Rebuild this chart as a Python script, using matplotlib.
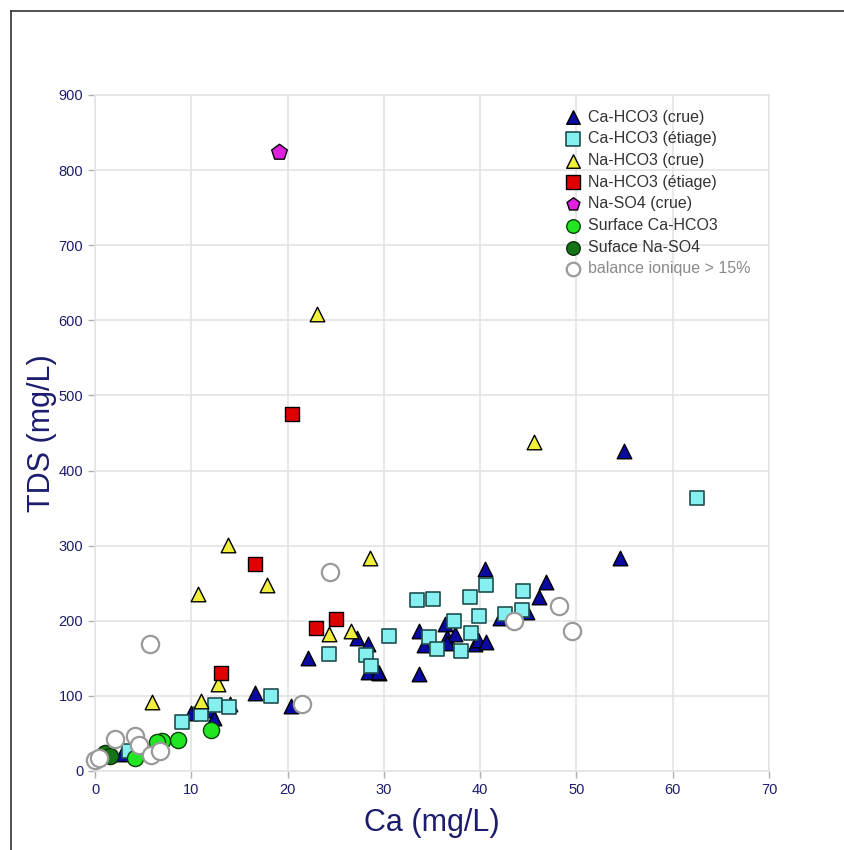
import matplotlib
matplotlib.use("Agg")
import matplotlib.pyplot as plt
from matplotlib.lines import Line2D

plt.rcParams['font.family'] = ['Liberation Sans', 'DejaVu Sans']

# Ca (mg/L), TDS (mg/L) per group
ca_hco3_crue_ca = [54.9, 54.5, 40.5, 46.8, 46.1, 44.9, 42.1, 33.6, 36.4, 36.6, 37.4, 34.2,
                   36.6, 39.5, 39.8, 40.6, 33.6, 29.5, 27.2, 28.4, 22.1, 28.4, 29.4, 16.6,
                   20.4, 14.0, 10.0, 11.9, 12.4, 2.8]
ca_hco3_crue_tds = [426, 284, 269, 251, 232, 212, 204, 186, 196, 178, 182, 168,
                    170, 169, 175, 172, 129, 131, 177, 169, 150, 132, 132, 104,
                    86, 89, 77, 81, 71, 23]

ca_hco3_etiage_ca = [62.5, 40.6, 44.4, 33.4, 35.1, 38.9, 44.3, 42.6, 37.3, 39.9, 30.5, 34.7,
                     39.1, 35.5, 38.0, 24.3, 28.1, 28.7, 18.3, 12.5, 13.9, 11.0, 9.0, 3.5]
ca_hco3_etiage_tds = [363, 247, 239, 227, 229, 232, 215, 209, 200, 206, 180, 178,
                      184, 162, 160, 156, 154, 140, 100, 88, 85, 76, 65, 26]

na_hco3_crue_ca = [45.6, 23.1, 13.8, 10.7, 17.9, 28.6, 24.3, 26.6, 12.8, 11.0, 5.9]
na_hco3_crue_tds = [438, 608, 301, 235, 247, 283, 183, 187, 116, 93, 92]

na_hco3_etiage_ca = [20.5, 16.6, 23.0, 25.0, 13.1]
na_hco3_etiage_tds = [475, 276, 191, 203, 130]

na_so4_crue_ca = [19.1]
na_so4_crue_tds = [824]

surf_ca_hco3_ca = [12.0, 8.6, 7.0, 6.4, 4.2]
surf_ca_hco3_tds = [54, 41, 40, 38, 17]

surf_na_so4_ca = [1.0, 1.6]
surf_na_so4_tds = [24, 20]

balance_ca = [24.4, 5.7, 21.5, 48.2, 49.5, 43.5, 0.0, 0.4, 2.1, 4.2, 4.6, 5.8, 6.8]
balance_tds = [265, 169, 89, 220, 186, 200, 14, 17, 43, 47, 35, 21, 26]

xticks = [0, 10, 20, 30, 40, 50, 60, 70]
yticks = [0, 100, 200, 300, 400, 500, 600, 700, 800, 900]

navy = '#1c1c6e'
fig = plt.figure(figsize=(8.44, 8.5), dpi=100)
ax = fig.add_axes([95 / 844, 1 - 771 / 850, 674 / 844, 676 / 850])

groups = [
    (ca_hco3_crue_ca, ca_hco3_crue_tds, '^', '#0a0aa0', 'black', 1.0, 110, 'Ca-HCO3 (crue)'),
    (ca_hco3_etiage_ca, ca_hco3_etiage_tds, 's', '#86f0f0', '#1f4f4f', 1.2, 90, 'Ca-HCO3 (étiage)'),
    (na_hco3_crue_ca, na_hco3_crue_tds, '^', '#f0f03c', 'black', 1.0, 110, 'Na-HCO3 (crue)'),
    (na_hco3_etiage_ca, na_hco3_etiage_tds, 's', '#e00000', 'black', 1.0, 90, 'Na-HCO3 (étiage)'),
    (na_so4_crue_ca, na_so4_crue_tds, 'p', '#e020e0', 'black', 1.0, 140, 'Na-SO4 (crue)'),
    (surf_ca_hco3_ca, surf_ca_hco3_tds, 'o', '#22e622', '#0a400a', 1.0, 135, 'Surface Ca-HCO3'),
    (surf_na_so4_ca, surf_na_so4_tds, 'o', '#147314', '#0a300a', 1.0, 135, 'Suface Na-SO4'),
    (balance_ca, balance_tds, 'o', 'white', '#9a9a9a', 1.6, 155, 'balance ionique > 15%'),
]

for x, y, m, fc, ec, lw, s, lab in groups:
    ax.scatter(x, y, marker=m, s=s, facecolor=fc, edgecolor=ec, linewidth=lw,
               label=lab, zorder=3, clip_on=False)

ax.set_xlim(0, 70)
ax.set_ylim(0, 900)
ax.set_xticks(xticks)
ax.set_yticks(yticks)
ax.grid(True, color='#e4e4e4', linewidth=1.2)
ax.set_axisbelow(True)
for sp in ax.spines.values():
    sp.set_color('#e4e4e4')
    sp.set_linewidth(1.2)
ax.tick_params(colors='#b0b0b0', labelcolor=navy, labelsize=10.5, length=5, width=1)

ax.set_xlabel('Ca (mg/L)', fontsize=22, color=navy, labelpad=8)
ax.set_ylabel('TDS (mg/L)', fontsize=22, color=navy, labelpad=1)

leg = ax.legend(loc='upper left', bbox_to_anchor=(0.685, 0.988), frameon=False,
                fontsize=11.5, handletextpad=0.35, labelspacing=0.42, borderaxespad=0,
                handlelength=1.2, scatterpoints=1)
for t in leg.get_texts():
    t.set_color('#333333')
leg.get_texts()[-1].set_color('#8a8a8a')
for h in leg.legend_handles:
    h.set_sizes([95])

# outer frame of the picture
fig.add_artist(Line2D([11 / 844, 11 / 844], [0, 1 - 11 / 850], color='#333333', linewidth=1.2))
fig.add_artist(Line2D([11 / 844, 1], [1 - 11 / 850, 1 - 11 / 850], color='#333333', linewidth=1.2))

fig.savefig('out.png', dpi=100)
